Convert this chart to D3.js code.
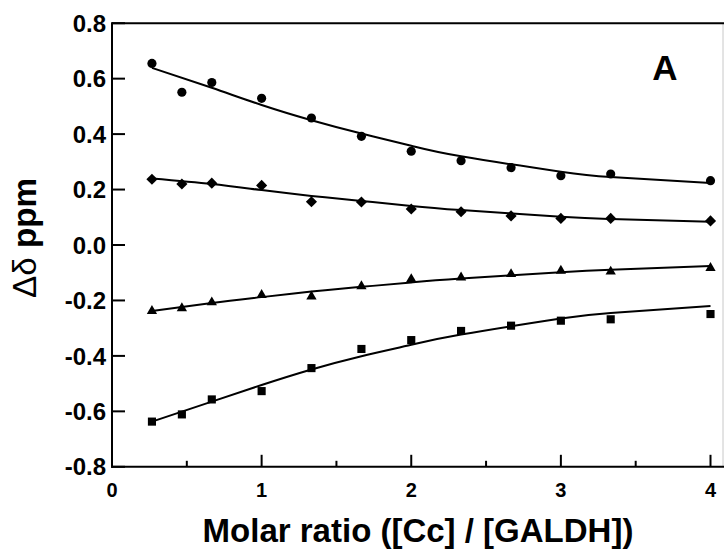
<!DOCTYPE html>
<html>
<head>
<meta charset="utf-8">
<script src="https://cdn.jsdelivr.net/npm/d3@7"></script>
<style>
  html, body { margin: 0; padding: 0; background: #fff; }
  svg { display: block; font-family: "Liberation Sans", Arial, sans-serif; }
</style>
</head>
<body>
<svg id="chart" width="724" height="552"></svg>
<script>
// molar ratio of each titration point
const ratio = [0.267, 0.467, 0.667, 1.0, 1.333, 1.667, 2.0, 2.333, 2.667, 3.0, 3.333, 4.0];

// measured chemical shift changes (ppm)
const circleVals = [0.655, 0.551, 0.586, 0.529, 0.458, 0.392, 0.338, 0.304, 0.279, 0.250, 0.256, 0.232];
const diamondVals = [0.237, 0.220, 0.223, 0.215, 0.156, 0.155, 0.130, 0.120, 0.105, 0.096, 0.096, 0.087];
const triangleVals = [-0.238, -0.228, -0.207, -0.180, -0.186, -0.149, -0.123, -0.117, -0.105, -0.093, -0.096, -0.083];
const squareVals = [-0.637, -0.611, -0.557, -0.527, -0.444, -0.375, -0.343, -0.310, -0.291, -0.273, -0.268, -0.249];

// fitted curves
const fitRatio = [0.267, 0.667, 1.0, 1.333, 1.667, 2.0, 2.333, 3.0, 3.333, 4.0];
const circleFit = [0.639, 0.567, 0.505, 0.450, 0.402, 0.358, 0.320, 0.264, 0.245, 0.224];
const diamondFit = [0.240, 0.220, 0.198, 0.177, 0.159, 0.141, 0.126, 0.102, 0.094, 0.084];
const triangleFit = [-0.238, -0.209, -0.188, -0.168, -0.151, -0.135, -0.121, -0.098, -0.089, -0.076];
const squareFit = [-0.637, -0.565, -0.505, -0.449, -0.401, -0.360, -0.323, -0.265, -0.245, -0.220];

const xTicks = [0, 1, 2, 3, 4];
const xMinorTicks = [0.5, 1.5, 2.5, 3.5];
const yTicks = [-0.8, -0.6, -0.4, -0.2, 0.0, 0.2, 0.4, 0.6, 0.8];

const svg = d3.select("#chart");

const x = d3.scaleLinear().domain([0, 4]).range([112, 710.5]);
const y = d3.scaleLinear().domain([-0.8, 0.8]).range([466.8, 23.2]);

// frame: top, left, bottom in black, faint right edge
svg.append("line")
    .attr("x1", 723).attr("x2", 723).attr("y1", 23.2).attr("y2", 466.8)
    .attr("stroke", "#c8c8c8").attr("stroke-width", 1);
svg.append("line")
    .attr("x1", 112).attr("x2", 724).attr("y1", 23.2).attr("y2", 23.2)
    .attr("stroke", "#000").attr("stroke-width", 2);

// bottom axis, ticks pointing inside
const xAxis = svg.append("g").attr("transform", "translate(0,466.8)");
xAxis.append("line").attr("x1", 111).attr("x2", 724)
    .attr("stroke", "#000").attr("stroke-width", 2);
xAxis.selectAll(".major").data(xTicks).join("line")
    .attr("x1", d => x(d)).attr("x2", d => x(d)).attr("y1", 0).attr("y2", -12)
    .attr("stroke", "#000").attr("stroke-width", 2);
xAxis.selectAll(".minor").data(xMinorTicks).join("line")
    .attr("x1", d => x(d)).attr("x2", d => x(d)).attr("y1", 0).attr("y2", -6)
    .attr("stroke", "#000").attr("stroke-width", 2);
xAxis.selectAll("text").data(xTicks).join("text")
    .attr("x", d => x(d)).attr("y", 30)
    .attr("text-anchor", "middle")
    .attr("font-size", 20).attr("font-weight", "bold")
    .text(d => String(d));

// left axis
const yAxis = svg.append("g").attr("transform", "translate(112,0)");
yAxis.append("line").attr("y1", 22.2).attr("y2", 467.8)
    .attr("stroke", "#000").attr("stroke-width", 2);
yAxis.selectAll(".tick").data(yTicks).join("line")
    .attr("x1", 0).attr("x2", 13).attr("y1", d => y(d)).attr("y2", d => y(d))
    .attr("stroke", "#000").attr("stroke-width", 2);
yAxis.selectAll("text").data(yTicks).join("text")
    .attr("x", -6).attr("y", d => y(d)).attr("dy", "0.36em")
    .attr("text-anchor", "end")
    .attr("font-size", 24).attr("font-weight", "bold")
    .text(d => d.toFixed(1));

// axis titles
svg.append("text")
    .attr("x", 418).attr("y", 542)
    .attr("text-anchor", "middle")
    .attr("font-size", 33).attr("font-weight", "bold")
    .text("Molar ratio ([Cc] / [GALDH])");

const yTitle = svg.append("text")
    .attr("transform", "translate(36,238) rotate(-90)")
    .attr("text-anchor", "middle")
    .attr("font-size", 33).attr("font-weight", "bold")
    .attr("textLength", 120).attr("lengthAdjust", "spacingAndGlyphs");
yTitle.append("tspan").attr("font-weight", "normal").text("Δδ");
yTitle.append("tspan").text(" ppm");

svg.append("text")
    .attr("x", 665).attr("y", 80)
    .attr("text-anchor", "middle")
    .attr("font-size", 35).attr("font-weight", "bold")
    .text("A");

// fitted curves
const line = d3.line()
    .x(d => x(d[0]))
    .y(d => y(d[1]))
    .curve(d3.curveNatural);

[circleFit, diamondFit, triangleFit, squareFit].forEach(fit => {
    svg.append("path")
        .attr("d", line(fitRatio.map((r, i) => [r, fit[i]])))
        .attr("fill", "none")
        .attr("stroke", "#000")
        .attr("stroke-width", 2);
});

// data markers
const series = [
    { vals: circleVals, type: d3.symbolCircle, size: 66, rot: 0 },
    { vals: diamondVals, type: d3.symbolSquare, size: 62, rot: 45 },
    { vals: triangleVals, type: d3.symbolTriangle, size: 46, rot: 0 },
    { vals: squareVals, type: d3.symbolSquare, size: 66, rot: 0 }
];

series.forEach(s => {
    const sym = d3.symbol().type(s.type).size(s.size);
    svg.append("g").selectAll("path")
        .data(ratio.map((r, i) => [r, s.vals[i]]))
        .join("path")
        .attr("transform", d => `translate(${x(d[0])},${y(d[1])}) rotate(${s.rot})`)
        .attr("d", sym)
        .attr("fill", "#000");
});
</script>
</body>
</html>
